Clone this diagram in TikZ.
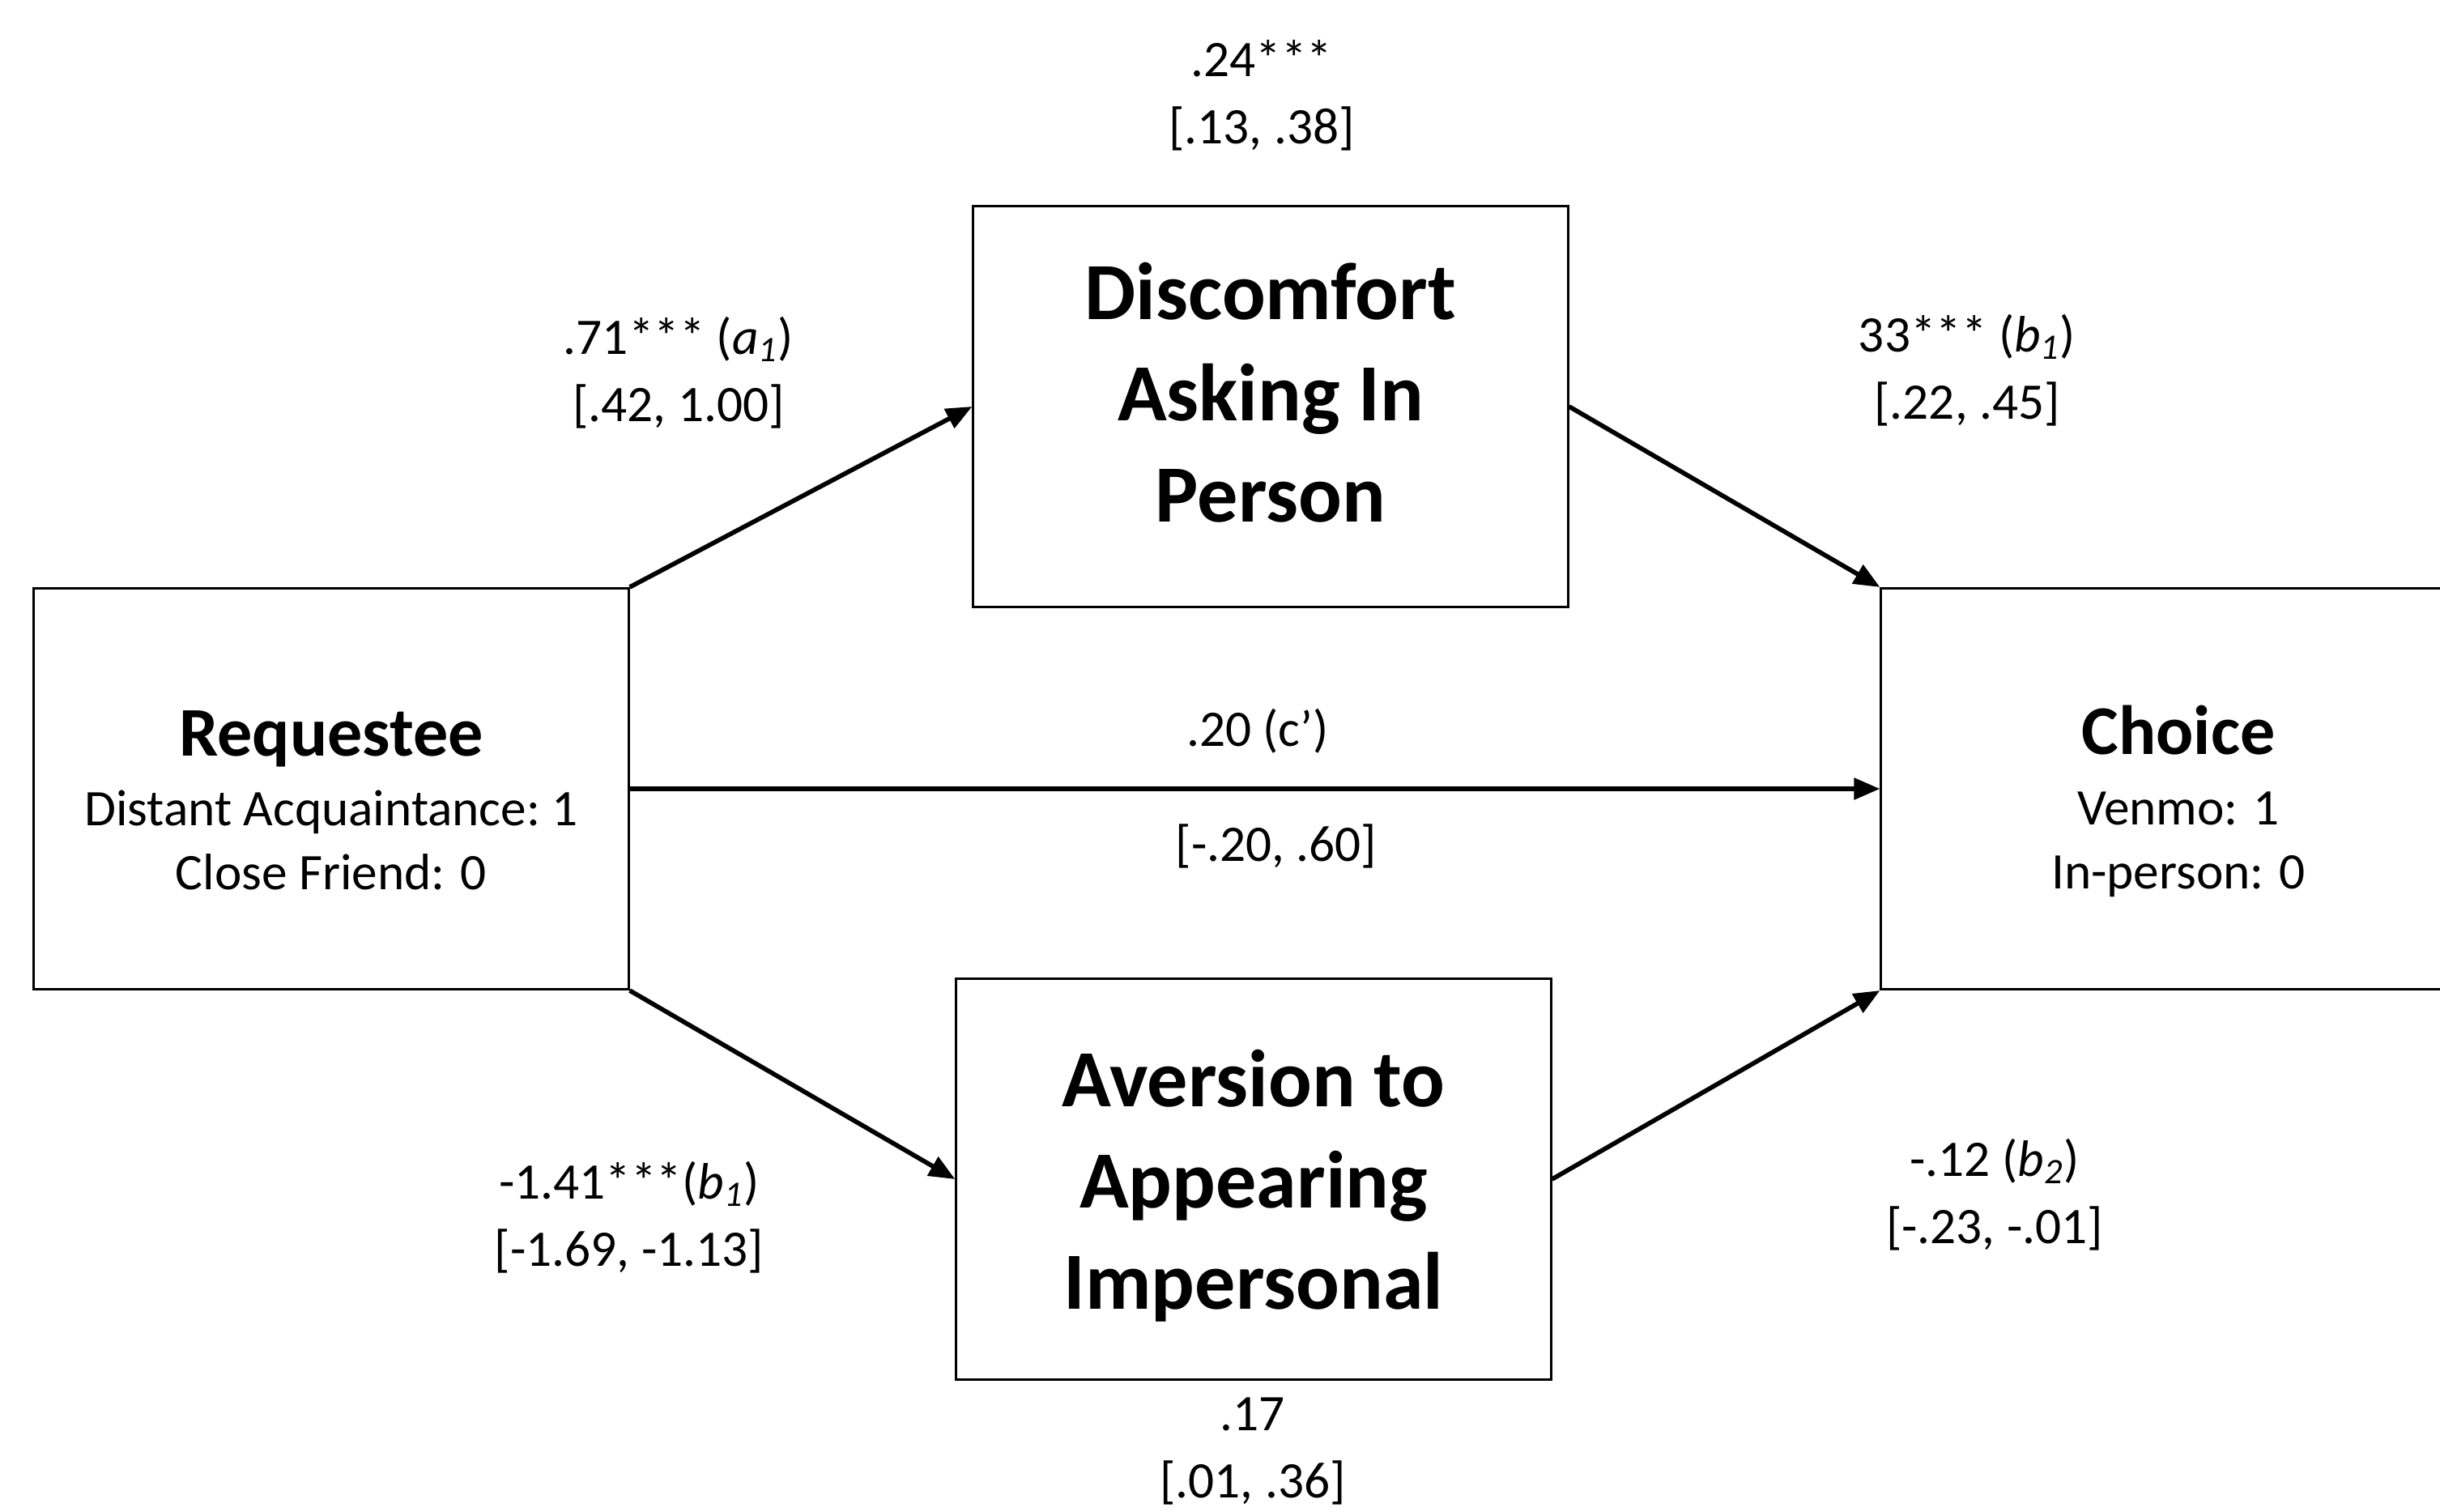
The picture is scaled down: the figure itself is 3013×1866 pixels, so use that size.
\documentclass[tikz,border=0pt]{standalone}
\usepackage{fontspec}
\setmainfont{Carlito}
\usetikzlibrary{arrows.meta}

\begin{document}
\begin{tikzpicture}[x=0.01cm, y=-0.01cm, block/.style = {shape=rectangle, draw, line width=0.8pt, align=center, fill=white, minimum width=7.34cm, minimum height=4.95cm, inner sep=0pt, font=\fontsize{18}{22.5}\selectfont}, mediator/.style = {block, font=\fontsize{28.5}{35.5}\selectfont\bfseries}, coef/.style = {align=center, inner sep=0pt, font=\fontsize{18}{23.6}\selectfont}, link/.style = {-{Triangle[length=0.32cm, width=0.26cm]}, line width=1.6pt}]
				\useasboundingbox (0,0) rectangle (3013,1866);
				% variables
				\node[block] (req) at (409,974) {\rule{0pt}{24pt}{\fontsize{24.5}{30}\selectfont\bfseries Requestee}\\[2pt] Distant Acquaintance:~1\\ Close Friend: 0};
				\node[mediator] (disc) at (1569,502) {Discomfort\\ Asking In\\ Person\rule[-10pt]{0pt}{10pt}};
				\node[mediator] (avers) at (1548,1456) {\rule{0pt}{24.5pt}Aversion to\\ Appearing\\ Impersonal};
				\node[block] (choice) at (2690,974) {\rule{0pt}{26pt}{\fontsize{24.5}{30}\selectfont\bfseries Choice}\\[2pt] Venmo: 1\\ In-person: 0};
				% paths
				\draw[link] (req.north east) -- (disc.west);
				\draw[link] (disc.east) -- (choice.north west);
				\draw[link] (req.south east) -- (avers.west);
				\draw[link] (avers.east) -- (choice.south west);
				\draw[link] (req.east) -- (choice.west);
				% coefficients
				\node[coef] (discci) at (1558,118) {.24***\\ {[.13, .38]}};
				\node[coef] (a1) at (838,460) {.71*** (\textit{a}\textsubscript{\textit{1}})\\ {[.42, 1.00]}};
				\node[coef] (b1top) at (2429,457) {33*** (\textit{b}\textsubscript{\textit{1}})\\ {[.22, .45]}};
				\node[coef] (cprime) at (1553,903) {.20 (c’)};
				\node[coef] (cci) at (1576,1045) {[-.20, .60]};
				\node[coef] (b1low) at (777,1503) {-1.41***(\textit{b}\textsubscript{\textit{1}})\\ {[-1.69, -1.13]}};
				\node[coef] (b2) at (2463,1475) {-.12 (\textit{b}\textsubscript{\textit{2}})\\ {[-.23, -.01]}};
				\node[coef] (aversci) at (1547,1792) {.17\\ {[.01, .36]}};
			\end{tikzpicture}
\end{document}
